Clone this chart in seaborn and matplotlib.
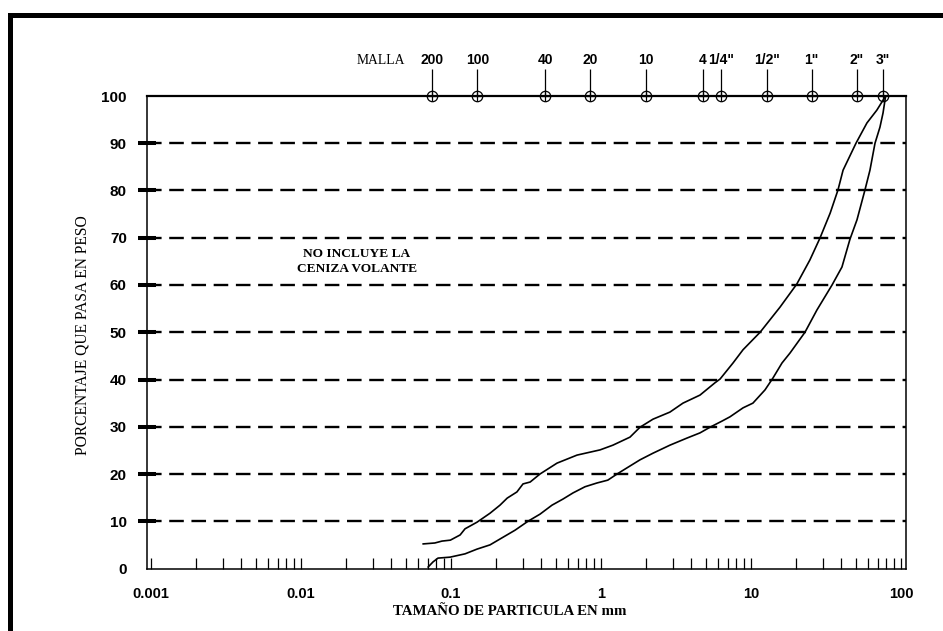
import matplotlib
matplotlib.use("Agg")
import matplotlib.pyplot as plt
import seaborn as sns
import numpy as np
import pandas as pd
from matplotlib.lines import Line2D
from matplotlib.ticker import LogLocator, NullFormatter

# ---------------- data ----------------
upper_d = [0.065, 0.078, 0.087, 0.099, 0.115, 0.124, 0.149, 0.182, 0.212, 0.237,
           0.275, 0.302, 0.337, 0.392, 0.509, 0.692, 0.985, 1.20, 1.56, 1.82,
           2.22, 2.88, 3.52, 4.57, 5.75, 6.22, 7.59, 8.85, 11.5, 15.6,
           20.2, 24.7, 28.8, 33.7, 38.0, 41.1, 50.1, 59.3, 69.0, 79.0]
upper_p = [5.2, 5.4, 5.8, 6.0, 7.1, 8.4, 9.8, 11.7, 13.4, 14.9,
           16.2, 17.9, 18.3, 20.0, 22.3, 24.0, 25.1, 26.1, 27.8, 29.9,
           31.6, 33.1, 35.0, 36.7, 39.3, 40.1, 43.5, 46.3, 50.0, 55.3,
           60.2, 65.3, 69.9, 75.2, 80.1, 84.3, 90.0, 94.3, 97.0, 100.0]

lower_d = [0.0703, 0.0759, 0.0819, 0.0985, 0.124, 0.149, 0.182, 0.219, 0.267, 0.326,
           0.392, 0.471, 0.558, 0.651, 0.782, 0.94, 1.11, 1.28, 1.49, 1.82,
           2.22, 2.88, 3.74, 4.57, 5.33, 6.41, 7.24, 8.85, 10.3, 12.4,
           14.0, 16.1, 18.2, 22.9, 27.5, 34.7, 40.4, 45.7, 50.9, 57.5,
           62.1, 67.1, 72.4, 75.9, 79.0]
lower_p = [0.3, 1.4, 2.2, 2.4, 3.1, 4.1, 5.0, 6.5, 8.1, 10.0,
           11.5, 13.4, 14.7, 16.0, 17.3, 18.1, 18.7, 20.0, 21.3, 23.0,
           24.4, 26.1, 27.6, 28.7, 29.9, 31.2, 32.1, 34.0, 35.0, 37.8,
           40.3, 43.5, 45.6, 50.0, 54.7, 60.0, 63.8, 69.7, 73.8, 80.1,
           84.3, 90.0, 93.4, 96.4, 100.0]

sieve_labels = ["200", "100", "40", "20", "10", "4", '1/4"', '1/2"', '1"', '2"', '3"']
sieve_mm = [0.075, 0.15, 0.425, 0.85, 2.0, 4.75, 6.35, 12.7, 25.4, 50.8, 76.2]

x_ticks = [0.001, 0.01, 0.1, 1, 10, 100]
x_tick_labels = ["0.001", "0.01", "0.1", "1", "10", "100"]
y_ticks = [0, 10, 20, 30, 40, 50, 60, 70, 80, 90, 100]
y_tick_labels = ["0", "10", "20", "30", "40", "50", "60", "70", "80", "90", "100"]
grid_levels = [10, 20, 30, 40, 50, 60, 70, 80, 90]

x_label = "TAMAÑO DE PARTICULA EN mm"
y_label = "PORCENTAJE QUE PASA EN PESO"
note = "NO INCLUYE LA\nCENIZA VOLANTE"
malla = "MALLA"

# ---------------- style ----------------
sns.set_style("white")
plt.rcParams["lines.scale_dashes"] = False
SANS = ["Liberation Sans Narrow", "Liberation Sans", "DejaVu Sans"]
SERIF = ["Liberation Serif", "DejaVu Serif"]
plt.rcParams["font.family"] = SANS

W, H = 943, 631
fig = plt.figure(figsize=(W / 100, H / 100), dpi=100)
fig.patch.set_facecolor("white")
ax_l, ax_r, ax_t, ax_b = 147, 906, 96, 568.5
ax = fig.add_axes([ax_l / W, 1 - ax_b / H, (ax_r - ax_l) / W, (ax_b - ax_t) / H])
ax.set_facecolor("white")
ax.set_xscale("log")

df = pd.concat([
    pd.DataFrame({"d": upper_d, "p": upper_p, "curve": "upper"}),
    pd.DataFrame({"d": lower_d, "p": lower_p, "curve": "lower"}),
])
sns.lineplot(data=df, x="d", y="p", hue="curve", palette=["black", "black"],
             estimator=None, sort=False, legend=False, lw=1.2, ax=ax, zorder=4)

ax.set_xlim(0.00094, 108)
ax.set_ylim(0, 100)

# dashed horizontal lines
for yv in grid_levels:
    ax.axhline(yv, color="black", lw=1.7, ls=(0, (10.5, 5.5)), zorder=2)

# spines
for s in ["left", "right", "bottom"]:
    ax.spines[s].set_color("black")
    ax.spines[s].set_linewidth(1.1)
ax.spines["top"].set_color("black")
ax.spines["top"].set_linewidth(1.6)

# x ticks
ax.set_xticks(x_ticks)
ax.set_xticklabels(x_tick_labels)
ax.xaxis.set_minor_locator(LogLocator(base=10, subs=np.arange(2, 10)))
ax.xaxis.set_minor_formatter(NullFormatter())
ax.tick_params(axis="x", which="both", direction="in", length=8, width=0.9,
               bottom=True, top=False, color="black")
ax.tick_params(axis="x", which="major", pad=13, labelsize=10.5, labelcolor="black")
for lab in ax.get_xticklabels():
    lab.set_fontweight("bold")
    lab.set_family(SANS)

# y ticks
ax.set_yticks(y_ticks)
ax.set_yticklabels(y_tick_labels)
ax.tick_params(axis="y", which="major", direction="inout", length=13, width=2.9,
               left=True, right=False, pad=8, labelsize=11, color="black",
               labelcolor="black")
for lab in ax.get_yticklabels():
    lab.set_fontweight("bold")
    lab.set_family(SANS)
yt = ax.yaxis.get_major_ticks()
yt[0].tick1line.set_visible(False)
yt[-1].tick1line.set_visible(False)

# labels
ax.set_xlabel(x_label, family=SERIF, fontweight="bold", fontsize=10.7, color="black")
ax.xaxis.set_label_coords(0.478, -0.090)
ax.xaxis.label.set_va("center")
ax.set_ylabel(y_label, family=SERIF, fontsize=11.2, color="black")
ax.yaxis.set_label_coords(-0.0856, 0.494)
ax.yaxis.label.set_va("center")

# sieve markers on top
ax.vlines(sieve_mm, 100, 105.7, color="black", lw=0.9, clip_on=False, zorder=5)
ax.plot(sieve_mm, [100] * len(sieve_mm), "o", mfc="none", mec="black", ms=7.5,
        mew=0.9, clip_on=False, zorder=6)
ax.plot(sieve_mm, [100] * len(sieve_mm), "+", color="black", ms=7.5,
        mew=0.9, clip_on=False, zorder=6)
for d, lab in zip(sieve_mm, sieve_labels):
    ax.text(d, 107.6, lab, ha="center", va="center", fontsize=10,
            fontweight="bold", family=SANS, color="black")
ax.text(0.0493, 107.6, malla, ha="right", va="center", family=SERIF,
        fontsize=9.8, color="black")

# note
ax.text(0.0236, 65.0, note, ha="center", va="center", multialignment="center",
        family=SERIF, fontweight="bold", fontsize=9.6, linespacing=1.3, color="black")

# page border (top and left)
fig.add_artist(Line2D([9.5 / W, 9.5 / W, 1.0], [0, 1 - 15 / H, 1 - 15 / H],
                      transform=fig.transFigure, color="black", lw=3.6,
                      solid_joinstyle="miter", solid_capstyle="butt"))

fig.savefig("out.png", dpi=100, facecolor="white")
